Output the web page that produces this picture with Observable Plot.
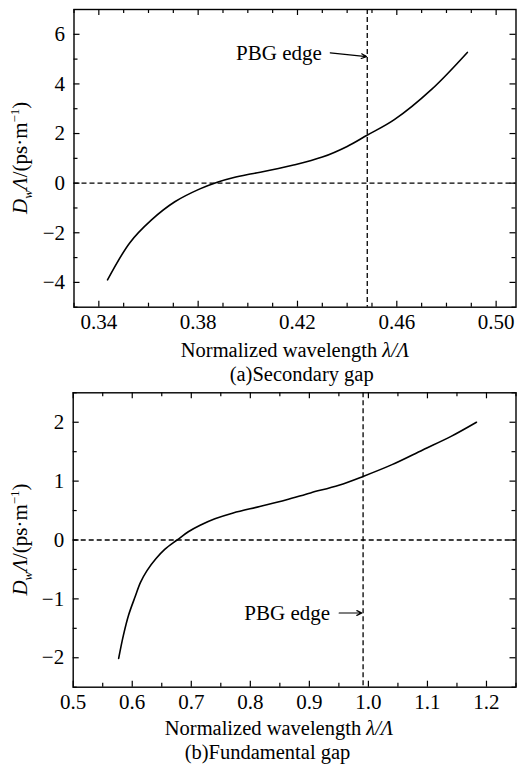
<!DOCTYPE html>
<html><head><meta charset="utf-8">
<script src="https://cdn.jsdelivr.net/npm/d3@7"></script>
<script src="https://cdn.jsdelivr.net/npm/@observablehq/plot@0.6"></script>
<style>
body{margin:0;background:#fff;font-family:'Liberation Serif'}
#chart svg{display:block}
#chart text, #chart tspan{font-family:'Liberation Serif' !important}
</style>
</head><body><div id="chart"></div>
<script>
const FONT = "Liberation Serif";

// ---- Panel (a): secondary gap ----
const aWavelength = [0.3435, 0.3525, 0.361, 0.3706, 0.3807, 0.388, 0.394, 0.400, 0.405, 0.418, 0.430, 0.440, 0.448, 0.459, 0.474, 0.4884];
const aDispersion = [-3.90, -2.40, -1.50, -0.75, -0.23, 0.05, 0.22, 0.35, 0.44, 0.72, 1.05, 1.48, 1.93, 2.56, 3.78, 5.27];
const aXTicks = [0.34, 0.38, 0.42, 0.46, 0.50];
const aXMinor = [0.33, 0.35, 0.36, 0.37, 0.39, 0.40, 0.41, 0.43, 0.44, 0.45, 0.47, 0.48, 0.49];
const aYTicks = [-4, -2, 0, 2, 4, 6];
const aYMinor = [-5, -3, -1, 1, 3, 5];
const aEdge = 0.4481;
const aNote = {x: 0.4298, y: 5.25, text: "PBG edge"};
const aArrow = {x1: 0.4332, y1: 5.25, x2: 0.4478, y2: 5.10};

// ---- Panel (b): fundamental gap ----
const bWavelength = [0.577, 0.585, 0.594, 0.605, 0.614, 0.625, 0.640, 0.655, 0.676, 0.695, 0.715, 0.740, 0.771, 0.816, 0.860, 0.902, 0.950, 0.991, 1.040, 1.092, 1.140, 1.183];
const bDispersion = [-2.01, -1.62, -1.27, -0.96, -0.72, -0.52, -0.32, -0.16, 0.00, 0.14, 0.25, 0.36, 0.46, 0.57, 0.68, 0.80, 0.93, 1.08, 1.28, 1.53, 1.76, 2.00];
const bXTicks = [0.5, 0.6, 0.7, 0.8, 0.9, 1.0, 1.1, 1.2];
const bXMinor = [0.55, 0.65, 0.75, 0.85, 0.95, 1.05, 1.15, 1.25];
const bYTicks = [-2, -1, 0, 1, 2];
const bYMinor = [-2.5, -1.5, -0.5, 0.5, 1.5, 2.5];
const bEdge = 0.991;
const bNote = {x: 0.935, y: -1.24, text: "PBG edge"};
const bArrow = {x1: 0.9505, y1: -1.24, x2: 0.989, y2: -1.24};

const yFmt = d => d < 0 ? "\u2212" + Math.abs(d) : String(d);

function panel(c) {
  const W = 517;
  const ph = c.height - c.mt - c.mb, pw = W - c.ml - c.mr;
  const [x0, x1] = c.xDomain, [y0, y1] = c.yDomain;
  const uy = px => px / ph * (y1 - y0);
  const ux = px => px / pw * (x1 - x0);
  const tk = {stroke: "#000", strokeWidth: 1.2};
  const vt = (ticks, len) => [
    Plot.ruleX(ticks, {x: d => d, y1: y0, y2: y0 + uy(len), ...tk}),
    Plot.ruleX(ticks, {x: d => d, y1: y1, y2: y1 - uy(len), ...tk})
  ];
  const ht = (ticks, len) => [
    Plot.ruleY(ticks, {y: d => d, x1: x0, x2: x0 + ux(len), ...tk}),
    Plot.ruleY(ticks, {y: d => d, x1: x1, x2: x1 - ux(len), ...tk})
  ];
  const data = c.xs.map((x, i) => ({x, y: c.ys[i]}));
  const svg = Plot.plot({
    width: W, height: c.height,
    marginTop: c.mt, marginBottom: c.mb, marginLeft: c.ml, marginRight: c.mr,
    style: {fontFamily: FONT, fontSize: "21px", background: "#fff", color: "#000", overflow: "visible"},
    x: {domain: c.xDomain, label: null},
    y: {domain: c.yDomain, label: null},
    marks: [
      Plot.ruleY([0], {stroke: "#000", strokeWidth: 1.3, strokeDasharray: "5,3"}),
      Plot.ruleX([c.edge], {stroke: "#000", strokeWidth: 1.3, strokeDasharray: "5,3"}),
      Plot.line(data, {x: "x", y: "y", curve: c.curve, stroke: "#000", strokeWidth: 1.6}),
      ...vt(c.xMinor, 4), ...vt(c.xTicks, 6),
      ...ht(c.yMinor, 4), ...ht(c.yTicks, 6),
      Plot.frame({stroke: "#000", strokeWidth: 1.4}),
      Plot.axisX({ticks: c.xTicks, tickSize: 0, tickPadding: 7, tickFormat: c.xFmt, fontSize: 21, fontFamily: FONT}),
      Plot.axisY({ticks: c.yTicks, tickSize: 0, tickPadding: 9, tickFormat: yFmt, fontSize: 21, fontFamily: FONT}),
      Plot.text([c.note], {x: "x", y: "y", text: "text", textAnchor: "end", lineAnchor: "middle", fontSize: 21, fontFamily: FONT, fill: "#000"}),
      Plot.arrow([c.arrow], {x1: "x1", y1: "y1", x2: "x2", y2: "y2", stroke: "#000", strokeWidth: 1.2, headLength: 7, headAngle: 50})
    ]
  });
  const s = d3.select(svg);
  s.attr("font-family", FONT);
  // y label
  const yl = s.append("text")
    .attr("transform", `translate(${c.ylx},${c.yly}) rotate(-90)`)
    .attr("text-anchor", "middle").attr("font-size", 21).attr("font-family", FONT).attr("fill", "#000");
  yl.append("tspan").attr("font-style", "italic").text("D");
  yl.append("tspan").attr("font-style", "italic").attr("font-size", 13).attr("dy", 5).text("w");
  yl.append("tspan").attr("font-style", "italic").attr("dy", -5).text("\u039B");
  yl.append("tspan").text("/(ps\u00B7m");
  yl.append("tspan").attr("font-size", 13).attr("dy", -8).text("\u22121");
  yl.append("tspan").attr("dy", 8).text(")");
  // x label
  const xl = s.append("text").attr("x", c.xlx).attr("y", c.xly)
    .attr("text-anchor", "middle").attr("font-size", 20.5).attr("font-family", FONT).attr("fill", "#000");
  xl.append("tspan").text("Normalized wavelength ");
  xl.append("tspan").attr("font-style", "italic").text("\u03BB/\u039B");
  // caption
  s.append("text").attr("x", c.cx).attr("y", c.cy)
    .attr("text-anchor", "middle").attr("font-size", 20.5).attr("font-family", FONT).attr("fill", "#000")
    .text(c.caption);
  return svg;
}

const root = document.getElementById("chart");
root.append(panel({
  height: 385, mt: 9, mb: 78.3, ml: 73.5, mr: 1.5,
  xDomain: [0.33, 0.508], yDomain: [-5, 7],
  xs: aWavelength, ys: aDispersion, curve: "catmull-rom",
  xTicks: aXTicks, xMinor: aXMinor, yTicks: aYTicks, yMinor: aYMinor,
  xFmt: d3.format(".2f"), edge: aEdge, note: aNote, arrow: aArrow,
  ylx: 27, yly: 157.8, xlx: 295, xly: 357, cx: 301.7, cy: 381,
  caption: "(a)Secondary gap"
}));
root.append(panel({
  height: 384, mt: 7.3, mb: 82.3, ml: 72.7, mr: 1.5,
  xDomain: [0.5, 1.25], yDomain: [-2.5, 2.5],
  xs: bWavelength, ys: bDispersion, curve: "catmull-rom",
  xTicks: bXTicks, xMinor: bXMinor, yTicks: bYTicks, yMinor: bYMinor,
  xFmt: d3.format(".1f"), edge: bEdge, note: bNote, arrow: bArrow,
  ylx: 27, yly: 154.5, xlx: 279, xly: 350, cx: 267.5, cy: 374,
  caption: "(b)Fundamental gap"
}));
</script>
</body></html>
